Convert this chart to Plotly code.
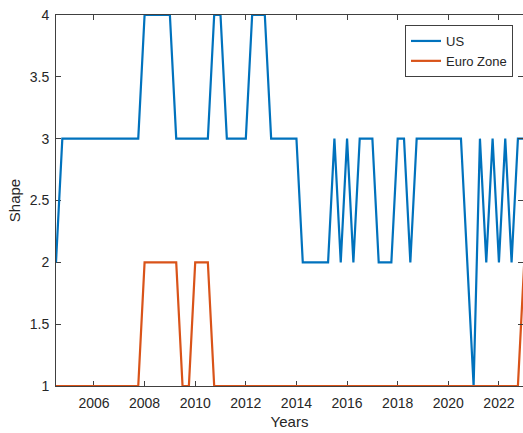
import plotly.graph_objects as go

# Quarterly observations, mid-2004 through 2023
years = [2004.5 + 0.25 * i for i in range(75)]

us_shape = (
    [2]
    + [3] * 13          # 2004.75 - 2007.75
    + [4] * 5           # 2008.0 - 2009.0
    + [3] * 6           # 2009.25 - 2010.5
    + [4] * 2           # 2010.75 - 2011.0
    + [3] * 4           # 2011.25 - 2012.0
    + [4] * 3           # 2012.25 - 2012.75
    + [3] * 5           # 2013.0 - 2014.0
    + [2] * 5           # 2014.25 - 2015.25
    + [3, 2, 3, 2]      # 2015.5 - 2016.25
    + [3] * 3           # 2016.5 - 2017.0
    + [2] * 3           # 2017.25 - 2017.75
    + [3] * 2           # 2018.0 - 2018.25
    + [2]               # 2018.5
    + [3] * 8           # 2018.75 - 2020.5
    + [2, 1]            # 2020.75 - 2021.0
    + [3, 2, 3, 2, 3, 2, 3, 3]  # 2021.25 - 2023.0
)

euro_shape = (
    [1] * 14            # 2004.5 - 2007.75
    + [2] * 6           # 2008.0 - 2009.25
    + [1] * 2           # 2009.5 - 2009.75
    + [2] * 3           # 2010.0 - 2010.5
    + [1] * 49          # 2010.75 - 2022.75
    + [2]               # 2023.0
)

x_ticks = [2006, 2008, 2010, 2012, 2014, 2016, 2018, 2020, 2022]
y_ticks = [1, 1.5, 2, 2.5, 3, 3.5, 4]
y_tick_text = ["1", "1.5", "2", "2.5", "3", "3.5", "4"]

BLUE = "#0072BD"
ORANGE = "#D95319"
AX = "#404040"
TXT = "#262626"
FONT = "Liberation Sans, Arial, sans-serif"

fig = go.Figure()
fig.add_trace(go.Scatter(x=years, y=us_shape, mode="lines", name="US",
                         line=dict(color=BLUE, width=2.2)))
fig.add_trace(go.Scatter(x=years, y=euro_shape, mode="lines", name="Euro Zone",
                         line=dict(color=ORANGE, width=2.2)))
# right-hand axis carrying only the mirrored tick marks
fig.add_trace(go.Scatter(x=[years[0]], y=[1], yaxis="y2", mode="lines",
                         showlegend=False, hoverinfo="skip",
                         line=dict(color="rgba(0,0,0,0)")))

x_range = [2004.5, 2004.5 + 467 / 25.31]

fig.update_layout(
    width=523, height=433,
    margin=dict(l=56, r=0, t=15, b=47),
    paper_bgcolor="white", plot_bgcolor="white",
    font=dict(family=FONT, size=14, color=TXT),
    xaxis=dict(
        range=x_range, tickvals=x_ticks, ticktext=[str(t) for t in x_ticks],
        ticks="inside", ticklen=5, tickcolor=AX, tickwidth=1,
        showline=True, linecolor=AX, linewidth=1, mirror="ticks",
        showgrid=False, zeroline=False, layer="below traces",
        ticklabelstandoff=4,
        title=dict(text="Years", font=dict(size=15, color=TXT), standoff=6),
        tickfont=dict(size=14, color=TXT),
    ),
    yaxis=dict(
        range=[1, 4], tickvals=y_ticks, ticktext=y_tick_text,
        ticks="inside", ticklen=5, tickcolor=AX, tickwidth=1,
        showline=True, linecolor=AX, linewidth=1,
        showgrid=False, zeroline=False, layer="below traces",
        ticklabelstandoff=3,
        title=dict(text="Shape", font=dict(size=15, color=TXT), standoff=5),
        tickfont=dict(size=14, color=TXT),
    ),
    yaxis2=dict(
        range=[1, 4], tickvals=y_ticks, overlaying="y", side="right",
        ticks="inside", ticklen=5, tickcolor=AX, tickwidth=1,
        showticklabels=False, showline=False, showgrid=False, zeroline=False,
    ),
    legend=dict(
        x=(513 - 56) / 467, y=(386 - 25) / 371, xanchor="right", yanchor="top",
        bgcolor="white", bordercolor=AX, borderwidth=1,
        font=dict(size=13, color=TXT), tracegroupgap=0,
    ),
    showlegend=True,
)

fig.write_html("out.html")
